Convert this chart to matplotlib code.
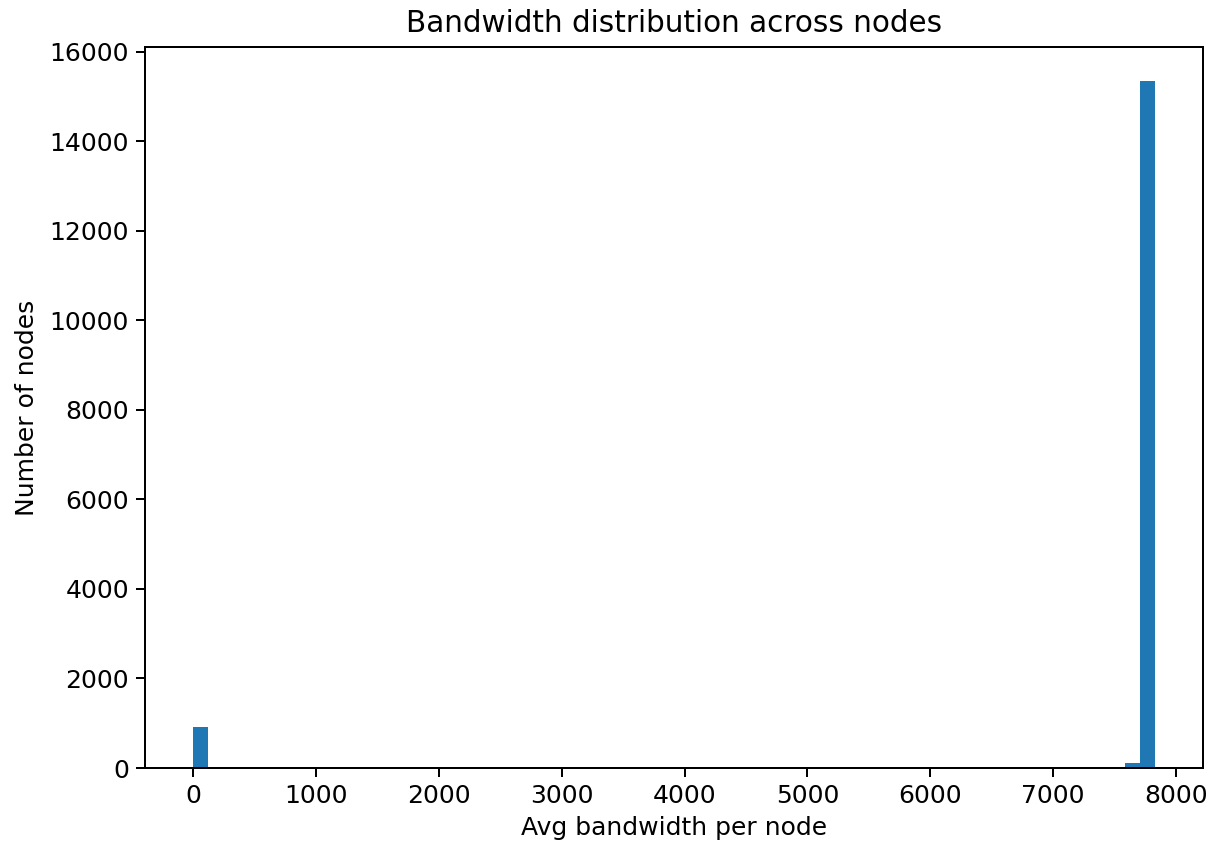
import numpy as np
import matplotlib
matplotlib.use("Agg")
import matplotlib.pyplot as plt

# Histogram of average bandwidth per node (64 bins over [0, max])
BW_MAX = 7828
N_BINS = 64
# only the non-empty bins: bin index -> node count
bin_index = [0, 62, 63]
node_count = [915, 110, 15335]

edges = np.linspace(0, BW_MAX, N_BINS + 1)
counts = np.zeros(N_BINS)
counts[bin_index] = node_count
centers = (edges[:-1] + edges[1:]) / 2

plt.rcParams.update({
    "font.size": 12,
    "axes.linewidth": 0.96,
    "xtick.major.width": 0.96,
    "ytick.major.width": 0.96,
    "xtick.major.size": 4.2,
    "ytick.major.size": 4.2,
})

fig = plt.figure(figsize=(1214 / 150, 848 / 150), dpi=150)
ax = fig.add_axes([145 / 1214, 1 - 768 / 848, (1203 - 145) / 1214, (768 - 47) / 848])
ax.hist(centers, bins=edges, weights=counts, color="#1f77b4")
ax.set_title("Bandwidth distribution across nodes", fontsize=14.2, pad=7)
ax.set_xlabel("Avg bandwidth per node")
ax.set_ylabel("Number of nodes", labelpad=5)

fig.savefig("out.png", dpi=150)
